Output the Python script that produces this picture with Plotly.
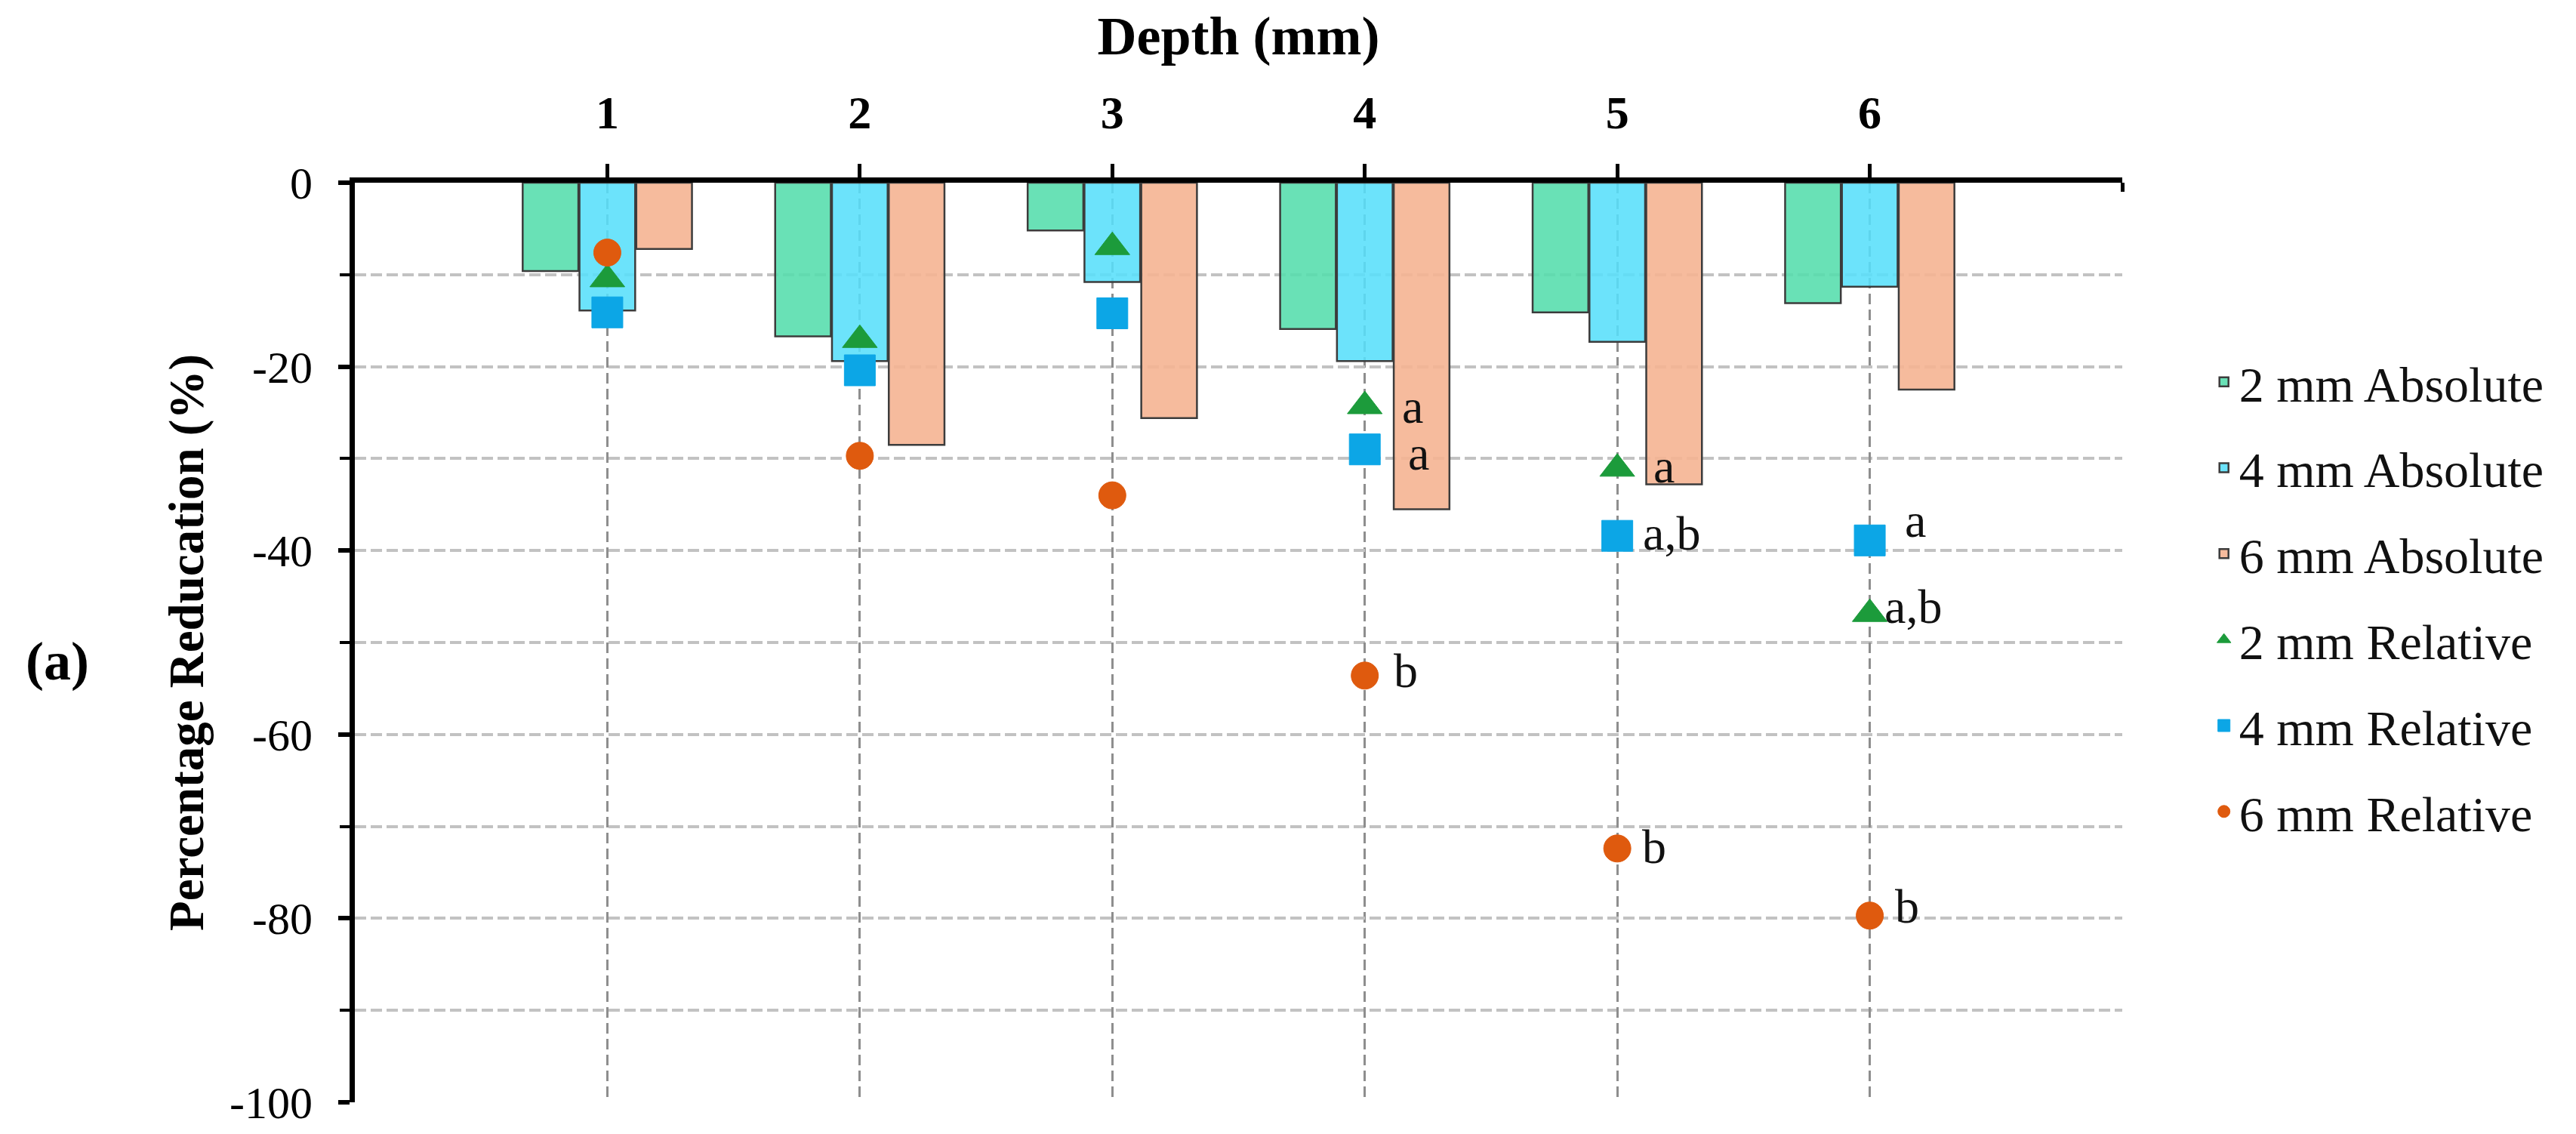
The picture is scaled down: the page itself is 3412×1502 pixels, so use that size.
import plotly.graph_objects as go

# ---------------- data ----------------
depth = [1, 2, 3, 4, 5, 6]
tick_labels = ["1", "2", "3", "4", "5", "6"]

abs_2mm = [-9.6, -16.7, -5.2, -15.9, -14.1, -13.1]
abs_4mm = [-13.9, -19.4, -10.8, -19.4, -17.3, -11.3]
abs_6mm = [-7.2, -28.5, -25.6, -35.5, -32.8, -22.5]

rel_2mm = [-10.5, -17.1, -7.0, -24.3, -31.1, -46.9]
rel_4mm = [-14.1, -20.4, -14.2, -29.0, -38.4, -38.9]
rel_6mm = [-7.6, -29.7, -34.0, -53.6, -72.4, -79.7]

y_ticks = [0, -20, -40, -60, -80, -100]

# significance letters: (depth, series, label)
ann_depth = [4, 4, 4, 5, 5, 5, 6, 6, 6]
ann_series = ["2 mm Relative", "4 mm Relative", "6 mm Relative",
              "2 mm Relative", "4 mm Relative", "6 mm Relative",
              "4 mm Relative", "2 mm Relative", "6 mm Relative"]
ann_labels = ["a", "a", "b", "a", "a,b", "b", "a", "a,b", "b"]

# ---------------- styling ----------------
FONT = "Liberation Serif"
W, H = 3412, 1502
ML, MR, MT, MB = 462, 609, 234, 50

bar_colors = ["rgba(84,221,172,0.88)", "rgba(88,223,251,0.88)", "rgba(245,180,146,0.9)"]
bar_names = ["2 mm Absolute", "4 mm Absolute", "6 mm Absolute"]
bar_values = [abs_2mm, abs_4mm, abs_6mm]

rel_names = ["2 mm Relative", "4 mm Relative", "6 mm Relative"]
rel_values = [rel_2mm, rel_4mm, rel_6mm]
rel_symbols = ["triangle-up", "square", "circle"]
rel_colors = ["#1C9B3B", "#0CA6E6", "#DF5A0E"]
rel_sizes = [40, 41, 36]

fig = go.Figure()

for name, vals, col in zip(bar_names, bar_values, bar_colors):
    fig.add_trace(go.Bar(
        x=depth, y=vals, name=name, legendgroup=name,
        marker=dict(color=col, line=dict(color="#3C3C3C", width=2.5)),
    ))

for name, vals, sym, col, sz in zip(rel_names, rel_values, rel_symbols, rel_colors, rel_sizes):
    fig.add_trace(go.Scatter(
        x=depth, y=vals, name=name, legendgroup=name, mode="markers",
        marker=dict(symbol=sym, color=col, size=sz,
                    line=dict(color=col, width=1)),
    ))

# annotation letters next to the relative markers
series_lookup = dict(zip(rel_names, rel_values))
ann_xshift = [47, 55, 36, 46, 32, 31, 44, 17, 31]
ann_yshift = [-1, -5, 6, 3, 3, 2, 26, 10, 12]
for d, s, lab, xs, ys in zip(ann_depth, ann_series, ann_labels, ann_xshift, ann_yshift):
    yv = series_lookup[s][depth.index(d)]
    fig.add_annotation(x=d, y=yv, text=lab, showarrow=False,
                       xanchor="left", yanchor="middle", xshift=xs, yshift=ys,
                       font=dict(family=FONT, size=64, color="#111111"))

# panel label
fig.add_annotation(x=-0.1683, y=0.4795, xref="paper", yref="paper",
                   text="<b>(a)</b>", showarrow=False,
                   xanchor="center", yanchor="middle",
                   font=dict(family=FONT, size=72, color="#000000"))

grid_h = dict(color="#C2C2C2", width=4, dash="15px,6px")
grid_v = dict(color="#8E8E8E", width=2.5, dash="14px,7px")

fig.update_layout(
    width=W, height=H,
    margin=dict(l=ML, r=MR, t=MT, b=MB, pad=0),
    paper_bgcolor="white", plot_bgcolor="white",
    barmode="group", bargap=0.325, bargroupgap=0.02,
    font=dict(family=FONT, color="#000000"),
    showlegend=True,
    legend=dict(x=1.049, y=0.824, xanchor="left", yanchor="top",
                font=dict(family=FONT, size=66, color="#111111"),
                traceorder="grouped", tracegroupgap=25,
                itemsizing="trace", bgcolor="rgba(0,0,0,0)"),
    xaxis=dict(
        side="top", range=[0, 7], tickmode="array",
        tickvals=depth, ticktext=["<b>%s</b>" % t for t in tick_labels],
        tickfont=dict(family=FONT, size=62, color="#000000"),
        ticks="outside", ticklen=18, tickwidth=5, tickcolor="#000000",
        ticklabelstandoff=22,
        showline=True, linecolor="#000000", linewidth=7,
        showgrid=True, gridcolor=grid_v["color"], gridwidth=grid_v["width"],
        griddash=grid_v["dash"], zeroline=False,
        minor=dict(tickmode="array", tickvals=[7], ticks="inside", ticklen=12,
                   tickwidth=5, tickcolor="#000000", showgrid=True,
                   gridcolor=grid_v["color"], gridwidth=grid_v["width"],
                   griddash=grid_v["dash"]),
        title=dict(text="<b>Depth (mm)</b>", standoff=26,
                   font=dict(family=FONT, size=72, color="#000000")),
        fixedrange=True,
    ),
    yaxis=dict(
        range=[-100, 0], tickmode="array", tickvals=y_ticks,
        ticktext=[str(v) for v in y_ticks],
        tickfont=dict(family=FONT, size=60, color="#000000"),
        ticks="outside", ticklen=15, tickwidth=6, tickcolor="#000000",
        ticklabelstandoff=22,
        showline=True, linecolor="#000000", linewidth=7,
        showgrid=True, gridcolor=grid_h["color"], gridwidth=grid_h["width"],
        griddash=grid_h["dash"], zeroline=False,
        minor=dict(dtick=10, tick0=0, ticks="outside", ticklen=13, tickwidth=4,
                   tickcolor="#000000", showgrid=True,
                   gridcolor=grid_h["color"], gridwidth=grid_h["width"],
                   griddash=grid_h["dash"]),
        title=dict(text="<b>Percentage Reducation (%)</b>", standoff=16,
                   font=dict(family=FONT, size=65, color="#000000")),
        fixedrange=True,
    ),
    yaxis2=dict(
        overlaying="y", side="left", range=[-100, 0], tickmode="array",
        tickvals=y_ticks, showticklabels=False, ticks="inside", ticklen=23,
        tickwidth=6, tickcolor="#000000", showgrid=False, showline=False,
        zeroline=False, fixedrange=True,
    ),
)

fig.write_html("out.html")
